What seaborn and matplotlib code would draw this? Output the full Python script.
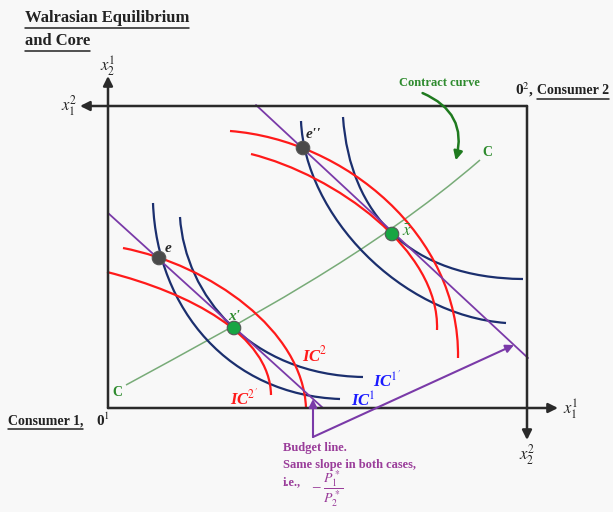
import numpy as np
import pandas as pd
import matplotlib.pyplot as plt
import seaborn as sns
from matplotlib.path import Path
from matplotlib.patches import PathPatch, FancyArrowPatch

sns.set_theme(style='white')
plt.rcParams['font.family'] = ['Liberation Serif', 'DejaVu Serif']
plt.rcParams['mathtext.fontset'] = 'stix'

######## Dados (coordenadas, em pixels) ########

# Caixa de Edgeworth: origem 1 embaixo à esquerda, origem 2 em cima à direita
caixa_x = [108, 527]
caixa_y = [408, 106]

# Dotações (e, e'') e equilíbrios (x', x barra)
pontos_nome = ['e', "e''", "x'", 'xbar']
pontos_x = [159, 303, 234, 392]
pontos_y = [258, 148, 328, 234]
pontos_tipo = ['dotacao', 'dotacao', 'equilibrio', 'equilibrio']

# Curvas de indiferença (Bezier cúbica, 4 pontos de controle cada)
ic1_e = [(153, 203), (157, 310), (230, 395), (340, 399)]
ic1_linha = [(180, 217), (185, 295), (250, 375), (363, 377)]
ic2_e = [(123, 248), (210, 265), (303, 330), (306, 408)]
ic2_linha = [(107, 272), (190, 293), (270, 335), (271, 395)]
ic1_e2 = [(301, 121), (305, 215), (400, 315), (506, 323)]
ic1_xbar = [(343, 117), (350, 215), (410, 278), (523, 279)]
ic2_e2 = [(230, 131), (345, 140), (460, 235), (458, 358)]
ic2_xbar = [(251, 154), (335, 175), (440, 250), (437, 330)]

# Curva de contrato
contrato = [(126, 385), (245, 320), (370, 255), (480, 160)]

# Retas orçamentárias (mesma inclinação)
orcamento1_x = [108, 323]
orcamento1_y = [213, 408]
orcamento2_x = [256, 528]
orcamento2_y = [105, 358]

# Cores
azul = '#1b2f6e'
vermelho = '#ff1a1a'
roxo = '#7a3aa8'
verde = '#2e8b2e'
fundo = '#f8f8f8'

######## Figura ########

fig = plt.figure(figsize=(6.13, 5.12), dpi=100)
fig.patch.set_facecolor(fundo)
ax = fig.add_axes([0, 0, 1, 1])
ax.set_facecolor(fundo)
ax.set_xlim(0, 613)
ax.set_ylim(512, 0)
ax.axis('off')


def bezier(pts, cor, lw=1.6, z=2):
    caminho = Path(pts, [Path.MOVETO, Path.CURVE4, Path.CURVE4, Path.CURVE4])
    ax.add_patch(PathPatch(caminho, facecolor='none', edgecolor=cor, lw=lw, zorder=z))


def seta(ini, fim, cor, lw=1.8, ms=14):
    ax.add_patch(FancyArrowPatch(ini, fim, arrowstyle='-|>', color=cor, lw=lw,
                                 mutation_scale=ms, shrinkA=0, shrinkB=0, zorder=3))


# Caixa com setas dos eixos
cor_caixa = '#2a2a2a'
seta((caixa_x[0], caixa_y[0]), (caixa_x[0], 76), cor_caixa)
seta((caixa_x[0], caixa_y[0]), (558, caixa_y[0]), cor_caixa)
seta((caixa_x[1], caixa_y[1]), (80, caixa_y[1]), cor_caixa)
seta((caixa_x[1], caixa_y[1]), (caixa_x[1], 440), cor_caixa)

# Curva de contrato
bezier(contrato, '#78ab78', lw=1.1, z=1)

# Curvas de indiferença
for c in [ic1_e, ic1_linha, ic1_e2, ic1_xbar]:
    bezier(c, azul)
for c in [ic2_e, ic2_linha, ic2_e2, ic2_xbar]:
    bezier(c, vermelho)

# Retas orçamentárias
sns.lineplot(x=orcamento1_x, y=orcamento1_y, ax=ax, color=roxo, lw=1.3, sort=False, zorder=2.5)
sns.lineplot(x=orcamento2_x, y=orcamento2_y, ax=ax, color=roxo, lw=1.3, sort=False, zorder=2.5)

# Setas da legenda da reta orçamentária
seta((313, 437), (313, 399), roxo, lw=1.5, ms=12)
seta((313, 437), (514, 345), roxo, lw=1.5, ms=12)

# Pontos
df = pd.DataFrame({'x': pontos_x, 'y': pontos_y, 'tipo': pontos_tipo})
sns.scatterplot(data=df, x='x', y='y', hue='tipo',
                palette={'dotacao': '#4a4a4a', 'equilibrio': '#17a543'},
                s=95, edgecolor='#555555', linewidth=0.8, legend=False, ax=ax, zorder=5)

######## Textos ########

def sublinhar(t, cor='#222222'):
    fig.canvas.draw()
    bb = t.get_window_extent().transformed(ax.transData.inverted())
    y = max(bb.y0, bb.y1) + 1.5
    ax.plot([bb.x0, bb.x1], [y, y], color=cor, lw=1.1)


t1 = ax.text(25, 18, 'Walrasian Equilibrium', fontsize=12, fontweight='bold',
             va='center', ha='left', color='#222222')
t2 = ax.text(25, 41, 'and Core', fontsize=12, fontweight='bold',
             va='center', ha='left', color='#222222')

ax.text(439, 83, 'Contract curve', fontsize=9, fontweight='bold', color=verde,
        ha='center', va='center')
ax.add_patch(FancyArrowPatch((420, 92), (455, 163), connectionstyle='arc3,rad=-0.45',
                             arrowstyle='-|>', color='#1f7a1f', lw=1.8,
                             mutation_scale=13, zorder=3))

ax.text(515, 90, r'0$^2$,', fontsize=11, fontweight='bold', ha='left', va='center', color='#222222')
t3 = ax.text(537, 91, 'Consumer 2', fontsize=10, fontweight='bold', ha='left', va='center', color='#222222')
t4 = ax.text(8, 421, 'Consumer 1,', fontsize=10, fontweight='bold', ha='left', va='center', color='#222222')
ax.text(96, 420, r'0$^1$', fontsize=11, fontweight='bold', ha='left', va='center', color='#222222')

# Rótulos dos eixos
ax.text(108, 66, r'$x_2^1$', fontsize=12, ha='center', va='center')
ax.text(69, 106, r'$x_1^2$', fontsize=12, ha='center', va='center')
ax.text(571, 409, r'$x_1^1$', fontsize=12, ha='center', va='center')
ax.text(527, 455, r'$x_2^2$', fontsize=12, ha='center', va='center')

# C da curva de contrato
ax.text(117, 392, 'C', fontsize=10, fontweight='bold', color=verde, ha='center', va='center')
ax.text(487, 152, 'C', fontsize=10, fontweight='bold', color=verde, ha='center', va='center')

# Rótulos dos pontos
ax.text(165, 249, 'e', fontsize=11, fontweight='bold', fontstyle='italic', ha='left', va='center')
ax.text(306, 135, "e''", fontsize=11, fontweight='bold', fontstyle='italic', ha='left', va='center')
ax.text(234, 316, "x'", fontsize=11, fontweight='bold', fontstyle='italic', color=verde,
        ha='center', va='center')
ax.text(402, 232, r'$\bar{x}$', fontsize=12, color=verde, ha='left', va='center')

# Rótulos das curvas
kw_ic = dict(fontsize=12, fontweight='bold', fontstyle='italic', ha='center', va='center')
ax.text(315, 355, r'IC$^{2}$', color=vermelho, **kw_ic)
ax.text(244, 398, r"IC$^{2'}$", color=vermelho, **kw_ic)
ax.text(387, 380, r"IC$^{1'}$", color='#1a1aff', **kw_ic)
ax.text(363, 401, r'IC$^{1}$', color='#1a1aff', **kw_ic)

# Legenda da reta orçamentária
cor_txt = '#9a3d9a'
ax.text(283, 448, 'Budget line.', fontsize=9, fontweight='bold', color=cor_txt, ha='left', va='center')
ax.text(283, 465, 'Same slope in both cases,', fontsize=9, fontweight='bold', color=cor_txt,
        ha='left', va='center')
ax.text(283, 482, 'i.e.,', fontsize=9, fontweight='bold', color=cor_txt, ha='left', va='center')
ax.text(316, 488, '\u2212', fontsize=12, color=cor_txt, ha='center', va='center')
ax.text(323, 489, r'$\dfrac{P_1^*}{P_2^*}$', fontsize=10, color=cor_txt, ha='left', va='center')

for t in [t1, t2, t3, t4]:
    sublinhar(t)

fig.savefig('out.png', dpi=100, facecolor=fundo)
